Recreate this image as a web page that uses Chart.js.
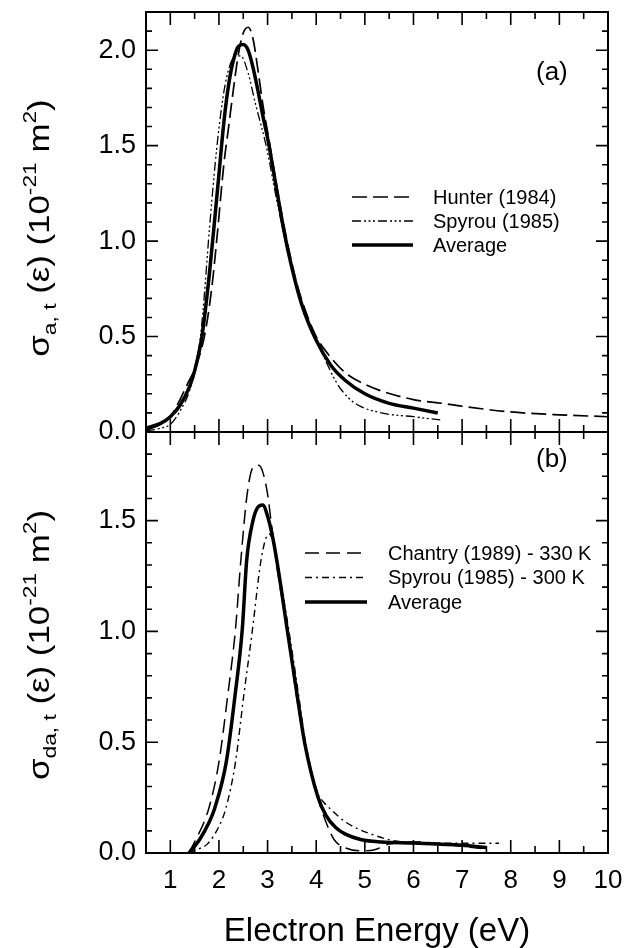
<!DOCTYPE html>
<html>
<head>
<meta charset="utf-8">
<script src="https://cdn.jsdelivr.net/npm/chart.js@4.4.1/dist/chart.umd.min.js"></script>
<style>
html, body { margin: 0; padding: 0; background: #fff; }
#wrap { position: relative; width: 628px; height: 948px; }
#wrap canvas { position: absolute; left: 0; top: 0; }
</style>
</head>
<body>
<div id="wrap">
  <canvas id="chart_a" width="628" height="948"></canvas>
  <canvas id="chart_b" width="628" height="948"></canvas>
</div>
<script>
// ---- Panel (a): attachment cross section ----
const hunterE  = [0.5, 0.8, 1.0, 1.2, 1.35, 1.5, 1.7, 1.85, 1.96, 2.1, 2.2, 2.3, 2.4, 2.5, 2.6, 2.7, 2.8, 2.9, 3.05, 3.2, 3.4, 3.6, 3.8, 4.0, 4.3, 4.6, 5.0, 5.4, 6.0, 6.6, 7.0, 8.0, 9.0, 10.0];
const hunterS  = [0.01, 0.04, 0.08, 0.17, 0.25, 0.33, 0.50, 0.75, 1.02, 1.40, 1.60, 1.80, 1.98, 2.09, 2.12, 2.06, 1.90, 1.72, 1.50, 1.27, 1.00, 0.78, 0.62, 0.50, 0.39, 0.31, 0.25, 0.21, 0.17, 0.15, 0.135, 0.105, 0.09, 0.08];
const spyrouAE = [0.5, 0.8, 1.0, 1.2, 1.4, 1.5, 1.62, 1.7, 1.8, 1.96, 2.1, 2.2, 2.3, 2.45, 2.6, 2.75, 2.97, 3.2, 3.4, 3.6, 3.8, 4.0, 4.2, 4.35, 4.52, 4.8, 5.34, 6.0, 6.55];
const spyrouAS = [0.005, 0.02, 0.04, 0.11, 0.22, 0.33, 0.50, 0.72, 1.05, 1.50, 1.78, 1.90, 1.96, 1.97, 1.88, 1.72, 1.50, 1.20, 0.96, 0.76, 0.60, 0.48, 0.37, 0.29, 0.22, 0.15, 0.10, 0.08, 0.063];
const avgAE    = [0.5, 0.8, 1.0, 1.2, 1.4, 1.5, 1.65, 1.8, 1.9, 2.0, 2.1, 2.2, 2.3, 2.4, 2.5, 2.6, 2.7, 2.8, 2.9, 3.0, 3.2, 3.34, 3.5, 3.7, 4.0, 4.3, 4.6, 5.0, 5.5, 6.0, 6.5];
const avgAS    = [0.02, 0.045, 0.08, 0.14, 0.24, 0.32, 0.50, 0.82, 1.08, 1.35, 1.62, 1.82, 1.95, 2.02, 2.03, 2.0, 1.91, 1.79, 1.66, 1.54, 1.25, 1.05, 0.86, 0.67, 0.48, 0.35, 0.27, 0.20, 0.15, 0.125, 0.10];

// ---- Panel (b): dissociative attachment cross section ----
const chantryE = [1.38, 1.5, 1.79, 2.0, 2.18, 2.34, 2.45, 2.58, 2.7, 2.82, 2.9, 3.0, 3.07, 3.2, 3.41, 3.6, 3.76, 3.9, 4.03, 4.2, 4.37, 4.58, 4.9, 5.2, 5.5, 6.0, 7.0, 7.4];
const chantryS = [0, 0.05, 0.20, 0.41, 0.71, 1.01, 1.32, 1.62, 1.74, 1.75, 1.72, 1.62, 1.50, 1.28, 1.00, 0.70, 0.50, 0.36, 0.25, 0.14, 0.06, 0.025, 0.01, 0.015, 0.04, 0.05, 0.03, 0.02];
const spyrouBE = [1.38, 1.6, 1.76, 2.0, 2.14, 2.34, 2.51, 2.69, 2.85, 2.95, 3.03, 3.12, 3.25, 3.44, 3.6, 3.78, 4.03, 4.15, 4.31, 4.6, 5.07, 5.76, 6.5, 7.76];
const spyrouBS = [0, 0.02, 0.04, 0.12, 0.20, 0.41, 0.71, 1.01, 1.30, 1.41, 1.44, 1.40, 1.25, 1.00, 0.77, 0.50, 0.27, 0.23, 0.195, 0.14, 0.09, 0.05, 0.045, 0.044];
const avgBE    = [1.38, 1.6, 1.8, 1.91, 2.15, 2.33, 2.48, 2.57, 2.7, 2.8, 2.9, 3.0, 3.1, 3.19, 3.41, 3.61, 3.76, 4.03, 4.2, 4.4, 4.6, 4.93, 5.34, 6.0, 7.0, 7.5];
const avgBS    = [0, 0.06, 0.14, 0.20, 0.41, 0.71, 1.01, 1.32, 1.50, 1.56, 1.57, 1.52, 1.43, 1.32, 1.00, 0.71, 0.50, 0.256, 0.17, 0.115, 0.085, 0.06, 0.05, 0.045, 0.035, 0.025];

const xTicks = [1, 2, 3, 4, 5, 6, 7, 8, 9, 10];
const FONT = "'Liberation Sans', Arial, Helvetica, sans-serif";

const pts = (xs, ys) => xs.map((x, i) => ({ x, y: ys[i] }));

function serie(label, xs, ys, dash, width) {
    return {
        label, data: pts(xs, ys), borderColor: '#000', backgroundColor: '#000',
        borderWidth: width, borderDash: dash, pointRadius: 0, fill: false,
        cubicInterpolationMode: 'monotone'
    };
}

/** Marco con ticks hacia dentro en los cuatro lados */
const marcoTicks = {
    id: 'marcoTicks',
    afterDatasetsDraw(chart) {
        const { ctx, chartArea: a, scales: { x, y } } = chart;
        ctx.save();
        ctx.strokeStyle = '#000';
        ctx.lineWidth = 1.6;
        ctx.beginPath();
        for (let k = Math.ceil(x.min * 2); k <= Math.floor(x.max * 2); k++) {
            const px = x.getPixelForValue(k / 2), len = k % 2 === 0 ? 13 : 7;
            ctx.moveTo(px, a.top); ctx.lineTo(px, a.top + len);
            ctx.moveTo(px, a.bottom); ctx.lineTo(px, a.bottom - len);
        }
        for (let k = 0; k <= Math.round(y.max * 10); k++) {
            const py = y.getPixelForValue(k / 10), len = k % 5 === 0 ? 12 : 6;
            ctx.moveTo(a.left, py); ctx.lineTo(a.left + len, py);
            ctx.moveTo(a.right, py); ctx.lineTo(a.right - len, py);
        }
        ctx.stroke();
        ctx.lineWidth = 2;
        ctx.strokeRect(a.left, a.top, a.right - a.left, a.bottom - a.top);
        ctx.restore();
    }
};

/** Leyenda con muestras de línea, etiqueta del panel y título Y con subíndices */
const decoracion = {
    id: 'decoracion',
    afterDraw(chart, args, o) {
        const ctx = chart.ctx;
        ctx.save();
        ctx.fillStyle = '#000'; ctx.strokeStyle = '#000';
        // leyenda
        ctx.font = `20px ${FONT}`;
        ctx.textBaseline = 'middle'; ctx.textAlign = 'left';
        chart.data.datasets.forEach((ds, i) => {
            const yy = o.legend.y + i * o.legend.row;
            ctx.lineWidth = ds.borderWidth;
            ctx.setLineDash(ds.borderDash || []);
            ctx.beginPath();
            ctx.moveTo(o.legend.x, yy); ctx.lineTo(o.legend.x + o.legend.len, yy);
            ctx.stroke();
            ctx.setLineDash([]);
            ctx.fillText(ds.label, o.legend.x + o.legend.len + o.legend.gap, yy + 1);
        });
        // etiqueta del panel
        ctx.font = `26px ${FONT}`;
        ctx.fillText(o.panel.text, o.panel.x, o.panel.y);
        // título del eje Y (estirado a lo largo del texto, como en la figura)
        const big = 29, small = 19, estirar = 1.2;
        const partes = [['\u03c3', big, 0], [o.sub, small, 7], [' (\u03b5) (10', big, 0], ['-21', small, -13], [' m', big, 0], ['2', small, -13], [')', big, 0]];
        let total = 0;
        partes.forEach(p => { ctx.font = `${p[1]}px ${FONT}`; total += ctx.measureText(p[0]).width; });
        ctx.translate(o.titleX, o.titleY);
        ctx.rotate(-Math.PI / 2);
        ctx.scale(estirar, 1);
        ctx.textBaseline = 'alphabetic';
        let xx = -total / 2;
        partes.forEach(p => {
            ctx.font = `${p[1]}px ${FONT}`;
            ctx.fillText(p[0], xx, p[2]);
            xx += ctx.measureText(p[0]).width;
        });
        ctx.restore();
    }
};

function ejeY(max, ancho) {
    return {
        type: 'linear', min: 0, max,
        grid: { display: false, drawTicks: false }, border: { display: false },
        ticks: {
            stepSize: 0.5, includeBounds: false, padding: 10, color: '#000',
            font: { family: FONT, size: 27 }, callback: v => v.toFixed(1)
        },
        afterFit(s) { s.width = ancho; s.paddingTop = 0; s.paddingBottom = 0; }
    };
}

new Chart(document.getElementById('chart_a'), {
    type: 'line',
    data: {
        datasets: [
            serie('Hunter (1984)', hunterE, hunterS, [15, 6], 1.7),
            serie('Spyrou (1985)', spyrouAE, spyrouAS, [9, 3, 2, 2.5, 2, 2.5, 2, 3], 1.3),
            serie('Average', avgAE, avgAS, [], 3.5)
        ]
    },
    options: {
        responsive: false, animation: false, devicePixelRatio: 1,
        layout: { padding: { left: 0, top: 12, right: 20, bottom: 516 } },
        plugins: {
            legend: { display: false }, tooltip: { enabled: false },
            decoracion: {
                legend: { x: 352, y: 197, row: 24, len: 61, gap: 20 },
                panel: { text: '(a)', x: 536, y: 73 },
                sub: 'a, t', titleX: 49, titleY: 228
            }
        },
        scales: {
            x: { type: 'linear', min: 0.5, max: 10, display: false },
            y: ejeY(2.2, 146)
        }
    },
    plugins: [marcoTicks, decoracion]
});

new Chart(document.getElementById('chart_b'), {
    type: 'line',
    data: {
        datasets: [
            serie('Chantry (1989) - 330 K', chantryE, chantryS, [14, 7], 1.5),
            serie('Spyrou (1985) - 300 K', spyrouBE, spyrouBS, [7, 4, 2, 4], 1.4),
            serie('Average', avgBE, avgBS, [], 3.5)
        ]
    },
    options: {
        responsive: false, animation: false, devicePixelRatio: 1,
        layout: { padding: { left: 0, top: 432, right: 20, bottom: 0 } },
        plugins: {
            legend: { display: false }, tooltip: { enabled: false },
            decoracion: {
                legend: { x: 305, y: 553, row: 24.5, len: 62, gap: 21 },
                panel: { text: '(b)', x: 536, y: 460 },
                sub: 'da, t', titleX: 49, titleY: 645
            }
        },
        scales: {
            x: {
                type: 'linear', min: 0.5, max: 10,
                grid: { display: false, drawTicks: false }, border: { display: false },
                ticks: {
                    stepSize: 1, includeBounds: false, padding: 12, color: '#000', maxRotation: 0,
                    font: { family: FONT, size: 26 }, callback: v => xTicks.includes(v) ? String(v) : ''
                },
                title: { display: true, text: 'Electron Energy (eV)', color: '#000', padding: 0, font: { family: FONT, size: 33, lineHeight: 1 } },
                afterFit(s) { s.height = 95; s.paddingLeft = 0; s.paddingRight = 0; }
            },
            y: ejeY(1.9, 146)
        }
    },
    plugins: [marcoTicks, decoracion]
});
</script>
</body>
</html>
